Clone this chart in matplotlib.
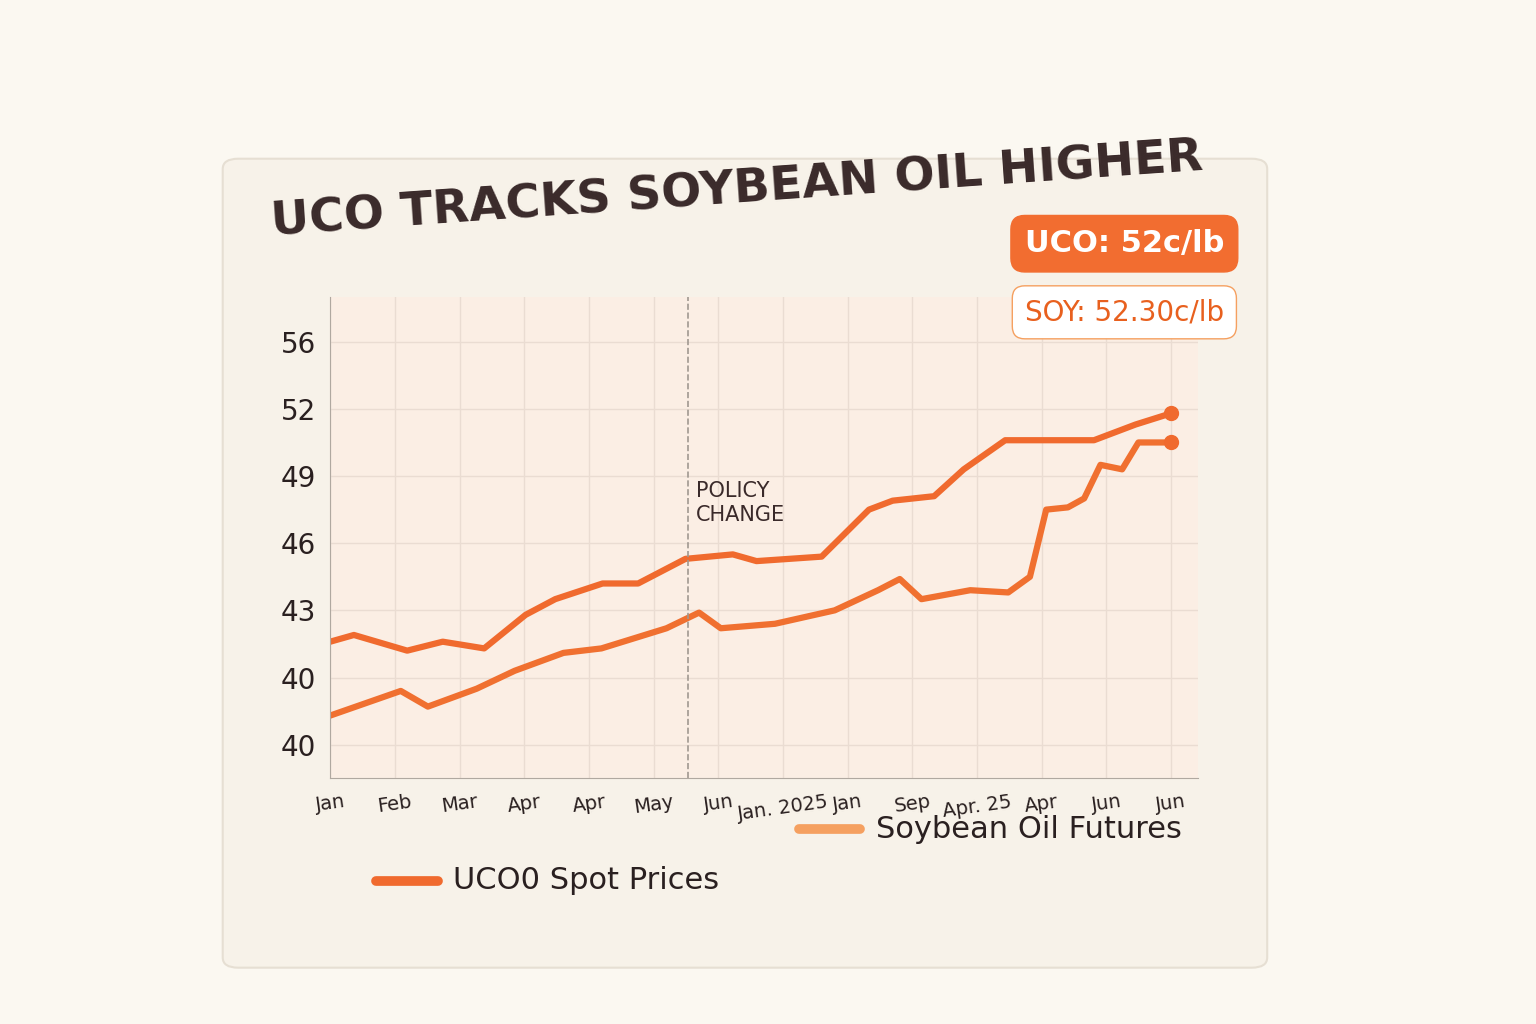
import matplotlib
matplotlib.use("Agg")
import matplotlib.pyplot as plt
from matplotlib.patches import FancyBboxPatch

tick_labels_x = ["Jan","Feb","Mar","Apr","Apr","May","Jun","Jan. 2025","Jan","Sep","Apr. 25","Apr","Jun","Jun"]
tick_labels_y = ["40","40","43","46","49","52","56"]
y_tick_pos = [37, 40, 43, 46, 49, 52, 55]

soy_x = [0,0.4,1.3,1.9,2.6,3.3,3.8,4.6,5.2,6.0,6.8,7.2,8.3,9.1,9.5,10.2,10.7,11.4,12.3,12.9,13.6,14.2]
soy_y = [41.6,41.9,41.2,41.6,41.3,42.8,43.5,44.2,44.2,45.3,45.5,45.2,45.4,47.5,47.9,48.1,49.3,50.6,50.6,50.6,51.3,51.8]
uco_x = [0,1.3,1.8,2.7,3.4,4.3,5.0,6.2,6.8,7.2,8.2,9.3,10.1,10.5,10.9,11.8,12.5,12.9,13.2,13.6,13.9,14.2,14.6,14.9,15.5]
uco_y = [38.3,39.4,38.7,39.5,40.3,41.1,41.3,42.2,42.9,42.2,42.4,43.0,43.9,44.4,43.5,43.9,43.8,44.5,47.5,47.6,48.0,49.5,49.3,50.5,50.5]

fig = plt.figure(figsize=(15.36, 10.24), dpi=100)
fig.patch.set_facecolor("#fbf8f1")
card = FancyBboxPatch((0.15, 0.06), 0.67, 0.78, boxstyle="round,pad=0.005,rounding_size=0.01",
                      transform=fig.transFigure, facecolor="#f7f2e9", edgecolor="#e6dfd3", lw=1.5, zorder=-5)
fig.patches.append(card)
fig.text(0.48, 0.77, "UCO TRACKS SOYBEAN OIL HIGHER", ha="center", fontsize=34, fontweight="bold",
         color="#3a2a2a", rotation=4)

ax = fig.add_axes([0.215, 0.24, 0.565, 0.47])
ax.set_zorder(3)
ax.set_facecolor("#fbeee4")
sx = [v * 15.5 / 14.2 for v in soy_x]
ax.plot(sx, soy_y, color="#f06a2e", lw=4.5, solid_capstyle="round")
ax.plot(uco_x, uco_y, color="#f07030", lw=4.5, solid_capstyle="round")
ax.plot([sx[-1]], [soy_y[-1]], "o", color="#f06a2e", ms=10)
ax.plot([uco_x[-1]], [uco_y[-1]], "o", color="#f06a2e", ms=10)
ax.axvline(6.6, color="#a09890", ls="--", lw=1.2)
ax.text(6.75, 47.8, "POLICY\nCHANGE", fontsize=15, color="#3a2a2a", va="center")
ax.set_xlim(0, 16)
ax.set_ylim(35.5, 57)
xt = [i * 15.5 / 13 for i in range(14)]
ax.set_xticks(xt)
ax.set_xticklabels(tick_labels_x, fontsize=14, color="#2a2020", rotation=8)
ax.set_yticks(y_tick_pos)
ax.set_yticklabels(tick_labels_y, fontsize=20, color="#2a2020")
ax.grid(color="#eadcd2", lw=1)
ax.tick_params(length=0, pad=10)
for s in ["top", "right"]:
    ax.spines[s].set_visible(False)
for s in ["left", "bottom"]:
    ax.spines[s].set_color("#b0a8a0")

fig.text(0.732, 0.762, "UCO: 52c/lb", ha="center", va="center", fontsize=22, color="white", fontweight="bold",
         bbox=dict(boxstyle="round,pad=0.45", fc="#f26d30", ec="#f26d30"), zorder=5)
fig.text(0.732, 0.695, "SOY: 52.30c/lb", ha="center", va="center", fontsize=20, color="#e8601e",
         bbox=dict(boxstyle="round,pad=0.45", fc="white", ec="#f5a060"), zorder=5)

fig.lines.append(plt.Line2D([0.245, 0.285], [0.14, 0.14], transform=fig.transFigure, color="#f06a2e", lw=7, solid_capstyle="round"))
fig.text(0.295, 0.14, "UCO0 Spot Prices", fontsize=22, color="#2a2020", va="center")
fig.lines.append(plt.Line2D([0.52, 0.56], [0.19, 0.19], transform=fig.transFigure, color="#f5a060", lw=7, solid_capstyle="round"))
fig.text(0.57, 0.19, "Soybean Oil Futures", fontsize=22, color="#2a2020", va="center")

fig.savefig("out.png", dpi=100, facecolor=fig.get_facecolor())
